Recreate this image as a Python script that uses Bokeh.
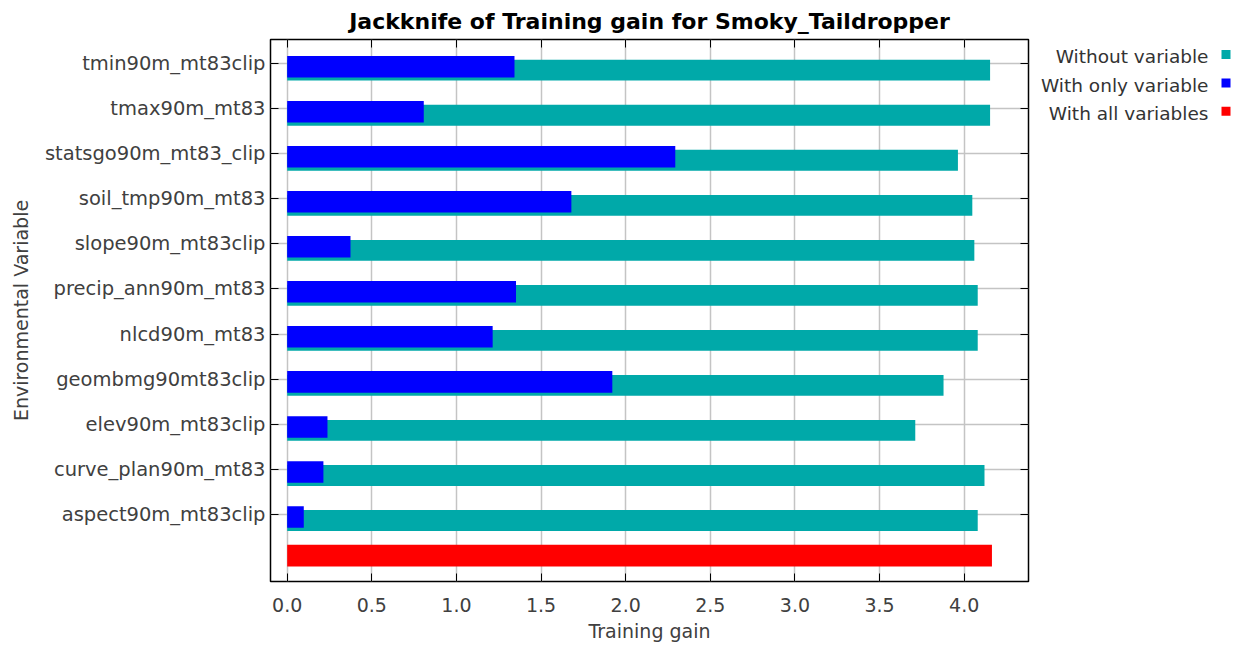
from bokeh.plotting import figure
from bokeh.models import Range1d, FixedTicker, LinearAxis, ColumnDataSource, PrintfTickFormatter, CustomJSTickFormatter
from bokeh.layouts import row
from bokeh.embed import file_html
from bokeh.resources import INLINE
from bokeh.core.properties import value

# ---------------- data ----------------
variables = [
    "tmin90m_mt83clip", "tmax90m_mt83", "statsgo90m_mt83_clip", "soil_tmp90m_mt83",
    "slope90m_mt83clip", "precip_ann90m_mt83", "nlcd90m_mt83", "geombmg90mt83clip",
    "elev90m_mt83clip", "curve_plan90m_mt83", "aspect90m_mt83clip",
]
gain_without = [4.153, 4.153, 3.963, 4.048, 4.060, 4.080, 4.080, 3.878, 3.711, 4.120, 4.080]
gain_only = [1.343, 0.807, 2.293, 1.679, 0.374, 1.352, 1.214, 1.921, 0.238, 0.214, 0.098]
gain_all = [4.164]
series_names = ["Without variable", "With only variable", "With all variables"]
series_colors = ["#00A9A9", "#0000FF", "#FF0000"]
x_ticks = [0.0, 0.5, 1.0, 1.5, 2.0, 2.5, 3.0, 3.5, 4.0]

TITLE = "Jackknife of Training gain for Smoky_Taildropper"
FONT = "DejaVu Sans"
TXT = "#404040"

n = len(variables)
ypos = [n - i for i in range(n)]          # 11 (top) .. 1
y_without = [y - 0.142 for y in ypos]
y_only = [y - 0.063 for y in ypos]
y_all = [0 + 0.079]

src = ColumnDataSource(dict(y_without=y_without, y_only=y_only, without=gain_without, only=gain_only))
src_all = ColumnDataSource(dict(y=y_all, right=gain_all))

FRAME_W, FRAME_H = 758, 542
RIGHT_BORDER = 4
p = figure(frame_width=FRAME_W, frame_height=FRAME_H,
           x_range=Range1d(-0.0986, 4.380), y_range=Range1d(-0.496, 11.54),
           output_backend="svg", toolbar_location=None,
           min_border_left=270, min_border_right=RIGHT_BORDER, min_border_top=38, min_border_bottom=60,
           title=TITLE)

p.title.text_font = FONT
p.title.text_font_size = "22px"
p.title.text_font_style = "bold"
p.title.align = "center"
p.title.text_color = "#000000"
p.title.standoff = 12

p.hbar(y="y_without", left=0, right="without", height=0.462, source=src,
       fill_color=series_colors[0], line_color=None)
p.hbar(y="y_only", left=0, right="only", height=0.478, source=src,
       fill_color=series_colors[1], line_color=None)
p.hbar(y="y", left=0, right="right", height=0.482, source=src_all,
       fill_color=series_colors[2], line_color=None)

# grid
p.xgrid.ticker = FixedTicker(ticks=x_ticks)
p.ygrid.ticker = FixedTicker(ticks=ypos)
for g in (p.xgrid, p.ygrid):
    g.grid_line_color = "#c4c4c4"
    g.grid_line_width = 1.5

p.outline_line_color = "#000000"
p.outline_line_width = 1.5
p.outline_line_alpha = 1.0

# bottom axis
xa = p.xaxis[0]
xa.ticker = FixedTicker(ticks=x_ticks)
xa.formatter = PrintfTickFormatter(format="%.1f")
xa.axis_label = "Training gain"

# left axis
ya = p.yaxis[0]
ya.ticker = FixedTicker(ticks=ypos)
ya.major_label_overrides = {y: name for y, name in zip(ypos, variables)}
ya.axis_label = "Environmental Variable"

for ax in (xa, ya):
    ax.axis_line_color = None
    ax.major_tick_in = 8
    ax.major_tick_out = 0
    ax.major_tick_line_color = "#000000"
    ax.minor_tick_line_color = None
    ax.major_label_text_font = FONT
    ax.major_label_text_color = TXT
    ax.axis_label_text_font = FONT
    ax.axis_label_text_color = TXT
    ax.axis_label_text_font_style = "normal"
    ax.axis_label_text_font_size = "19px"

xa.major_label_text_font_size = "19px"
xa.major_label_standoff = 16
xa.axis_label_standoff = 5
ya.major_label_text_font_size = "19.5px"
ya.major_label_standoff = 5
ya.axis_label_standoff = 10

# mirrored tick marks on top and right
blank = CustomJSTickFormatter(code="return ''")
top = LinearAxis(ticker=FixedTicker(ticks=x_ticks), formatter=blank)
right = LinearAxis(ticker=FixedTicker(ticks=ypos), formatter=blank)
for ax in (top, right):
    ax.axis_line_color = None
    ax.major_tick_in = 8
    ax.major_tick_out = 0
    ax.major_tick_line_color = "#000000"
    ax.minor_tick_line_color = None
    ax.major_label_standoff = 0
p.add_layout(top, "above")
p.add_layout(right, "right")

# ---------------- legend panel (frame is aligned with the main frame) ----------------
LEG_LEFT = 270 + FRAME_W + RIGHT_BORDER
LEG_W = 1235 - LEG_LEFT
leg = figure(frame_width=LEG_W, frame_height=FRAME_H,
             x_range=Range1d(0, LEG_W), y_range=Range1d(FRAME_H, 0),
             output_backend="svg", toolbar_location=None,
             min_border=0, min_border_left=0, min_border_right=0, min_border_top=0, min_border_bottom=0)
leg.axis.visible = False
leg.grid.visible = False
leg.outline_line_color = None
k = list(range(len(series_names)))
leg_src = ColumnDataSource(dict(
    name=series_names, color=series_colors,
    ty=[17 + 28.5 * i for i in k], sy=[15 + 28.4 * i for i in k],
    tx=[1208 - LEG_LEFT] * len(k), sx=[1225.5 - LEG_LEFT] * len(k)))
leg.text(x="tx", y="ty", text="name", source=leg_src, text_align="right",
         text_baseline="middle", text_font=value(FONT), text_font_size="18.5px",
         text_color="#333333")
leg.scatter(x="sx", y="sy", source=leg_src, marker="square", size=9,
            fill_color="color", line_color=None)

layout = row(p, leg)
open("out.html", "w").write(file_html(layout, INLINE))
